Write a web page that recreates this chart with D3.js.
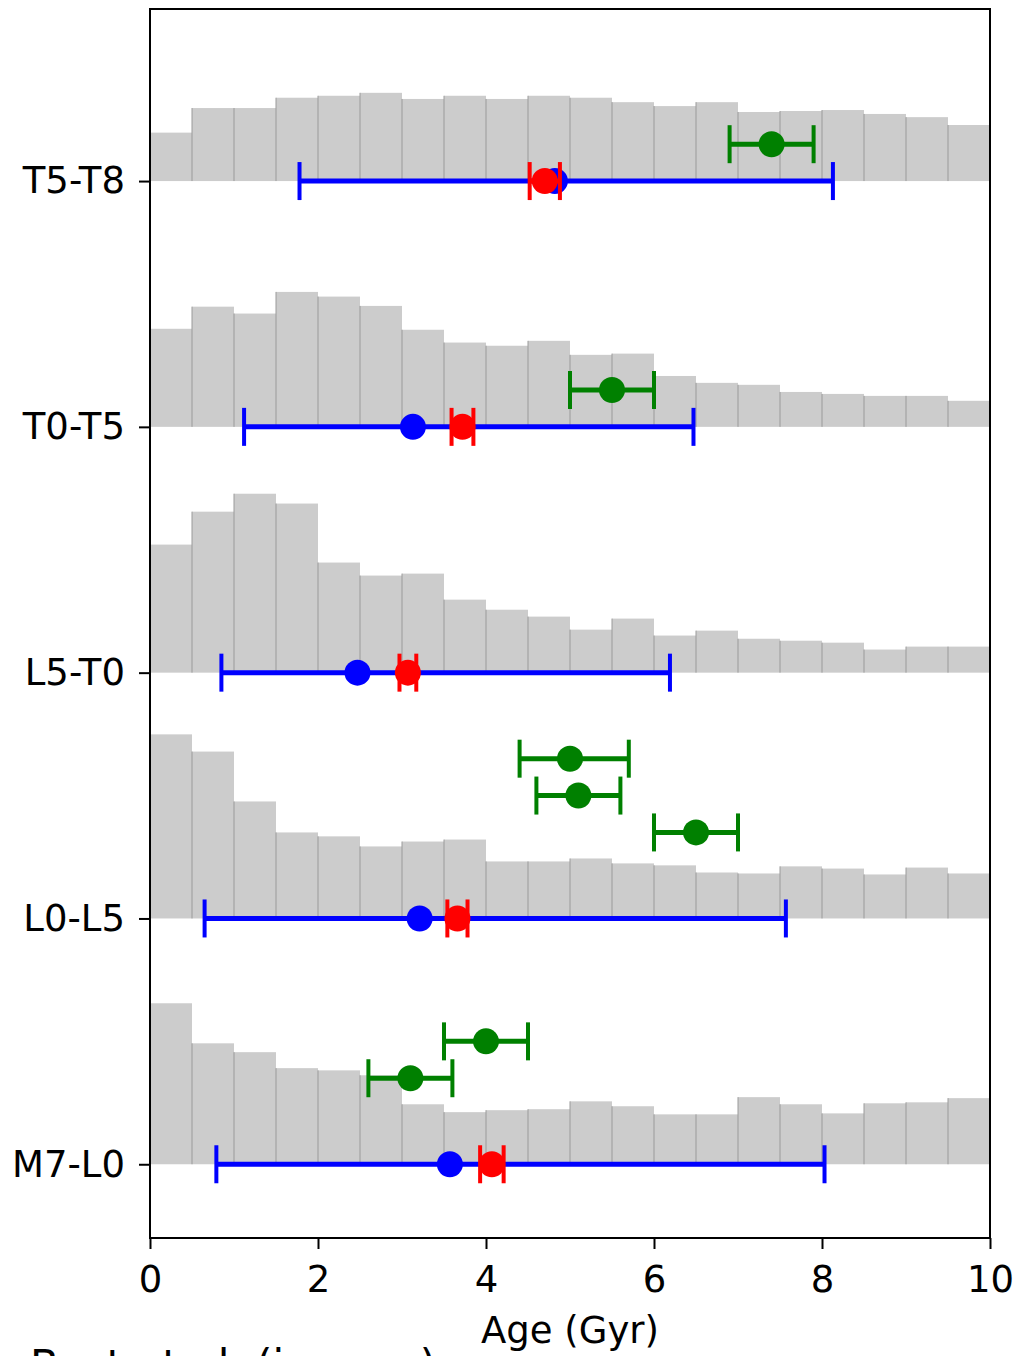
<!DOCTYPE html>
<html>
<head>
<meta charset="utf-8">
<script src="https://cdn.jsdelivr.net/npm/d3@7"></script>
<style>
  body { margin: 0; background: #fff; }
  svg { display: block; font-family: "DejaVu Sans", sans-serif; }
</style>
</head>
<body>
<div id="chart"></div>
<script>
// spectral type groups, bottom to top
const groups = ["M7-L0", "L0-L5", "L5-T0", "T0-T5", "T5-T8"];

// histogram bins (Gyr)
const binEdges = [0, 0.5, 1, 1.5, 2, 2.5, 3, 3.5, 4, 4.5, 5, 5.5, 6, 6.5, 7, 7.5, 8, 8.5, 9, 9.5, 10];

// histogram heights (fraction of the row spacing)
const histM7L0 = [0.655, 0.492, 0.456, 0.391, 0.382, 0.362, 0.244, 0.212, 0.220, 0.224, 0.256, 0.236, 0.203, 0.203, 0.273, 0.244, 0.207, 0.248, 0.252, 0.269];
const histL0L5 = [0.749, 0.679, 0.476, 0.350, 0.334, 0.293, 0.313, 0.321, 0.232, 0.232, 0.244, 0.224, 0.216, 0.187, 0.183, 0.212, 0.203, 0.179, 0.207, 0.183];
const histL5T0 = [0.521, 0.655, 0.728, 0.688, 0.448, 0.395, 0.403, 0.297, 0.256, 0.228, 0.175, 0.220, 0.151, 0.171, 0.138, 0.130, 0.122, 0.094, 0.106, 0.106];
const histT0T5 = [0.399, 0.489, 0.461, 0.549, 0.530, 0.492, 0.395, 0.343, 0.330, 0.350, 0.293, 0.298, 0.207, 0.179, 0.171, 0.142, 0.134, 0.126, 0.126, 0.106];
const histT5T8 = [0.197, 0.297, 0.297, 0.339, 0.347, 0.359, 0.334, 0.347, 0.334, 0.347, 0.339, 0.321, 0.305, 0.321, 0.281, 0.285, 0.289, 0.273, 0.260, 0.228];
const hists = [histM7L0, histL0L5, histL5T0, histT0T5, histT5T8];

// blue: median age with range
const blueAge = [3.57, 3.21, 2.47, 3.13, 4.82];
const blueLo  = [0.79, 0.65, 0.85, 1.12, 1.78];
const blueHi  = [8.03, 7.57, 6.19, 6.47, 8.13];

// red: mean age with error
const redAge = [4.07, 3.66, 3.07, 3.72, 4.70];
const redErr = [0.14, 0.12, 0.10, 0.13, 0.18];

// green: literature ages (group index, vertical offset, age, low, high)
const greenGroup  = [0, 0, 1, 1, 1, 3, 4];
const greenOffset = [0.5, 0.35, 0.65, 0.5, 0.35, 0.15, 0.15];
const greenAge    = [4.0, 3.1, 5.0, 5.1, 6.5, 5.5, 7.4];
const greenLo     = [3.5, 2.6, 4.4, 4.6, 6.0, 5.0, 6.9];
const greenHi     = [4.5, 3.6, 5.7, 5.6, 7.0, 6.0, 7.9];

const xTicks = [0, 2, 4, 6, 8, 10];

const W = 1015, H = 1356;
const margin = { top: 9, right: 25, bottom: 118, left: 150 };
const fontSize = 37;

const svg = d3.select("#chart").append("svg")
    .attr("width", W)
    .attr("height", H);

const x = d3.scaleLinear().domain([0, 10]).range([margin.left, W - margin.right]);
const y = d3.scaleLinear().domain([-0.3, 4.7]).range([H - margin.bottom, margin.top]);

// histograms
const bars = [];
hists.forEach((h, gi) => {
    h.forEach((v, bi) => bars.push({ g: gi, b: bi, v: v }));
});

svg.append("g").selectAll("rect")
    .data(bars)
    .enter().append("rect")
    .attr("x", d => x(binEdges[d.b]))
    .attr("y", d => y(d.g + d.v))
    .attr("width", d => x(binEdges[d.b + 1]) - x(binEdges[d.b]))
    .attr("height", d => y(d.g) - y(d.g + d.v))
    .attr("fill", "#cccccc");

svg.append("g").selectAll("line")
    .data(bars.filter(d => d.b > 0))
    .enter().append("line")
    .attr("x1", d => x(binEdges[d.b]))
    .attr("x2", d => x(binEdges[d.b]))
    .attr("y1", d => y(d.g))
    .attr("y2", d => y(d.g + d.v))
    .attr("stroke", "#9a9a9a")
    .attr("stroke-width", 1);

// error bar helper
const capHalf = 19;
function errorbar(g, cx, cy, lo, hi, color) {
    g.append("line")
        .attr("x1", x(lo)).attr("x2", x(hi))
        .attr("y1", cy).attr("y2", cy)
        .attr("stroke", color).attr("stroke-width", 5);
    [lo, hi].forEach(v => {
        g.append("line")
            .attr("x1", x(v)).attr("x2", x(v))
            .attr("y1", cy - capHalf).attr("y2", cy + capHalf)
            .attr("stroke", color).attr("stroke-width", 4);
    });
    g.append("circle")
        .attr("cx", x(cx)).attr("cy", cy)
        .attr("r", 13)
        .attr("fill", color);
}

const marks = svg.append("g");
groups.forEach((grp, i) => {
    errorbar(marks, blueAge[i], y(i), blueLo[i], blueHi[i], "#0000ff");
});
groups.forEach((grp, i) => {
    errorbar(marks, redAge[i], y(i), redAge[i] - redErr[i], redAge[i] + redErr[i], "#ff0000");
});
greenAge.forEach((a, k) => {
    errorbar(marks, a, y(greenGroup[k] + greenOffset[k]), greenLo[k], greenHi[k], "#008000");
});

// frame
svg.append("rect")
    .attr("x", margin.left)
    .attr("y", margin.top)
    .attr("width", W - margin.left - margin.right)
    .attr("height", H - margin.top - margin.bottom)
    .attr("fill", "none")
    .attr("stroke", "#000")
    .attr("stroke-width", 2);

// axes
const xAxis = svg.append("g")
    .attr("transform", `translate(0,${H - margin.bottom})`)
    .call(d3.axisBottom(x).tickValues(xTicks).tickSize(11).tickPadding(17).tickFormat(d3.format("d")));

const yAxis = svg.append("g")
    .attr("transform", `translate(${margin.left},0)`)
    .call(d3.axisLeft(y).tickValues(d3.range(groups.length)).tickSize(11).tickPadding(14).tickFormat(i => groups[i]));

[xAxis, yAxis].forEach(a => {
    a.select(".domain").remove();
    a.selectAll(".tick line").attr("stroke", "#000").attr("stroke-width", 2);
    a.selectAll(".tick text")
        .attr("fill", "#000")
        .style("font-size", fontSize + "px")
        .style("font-family", "DejaVu Sans, sans-serif");
});

svg.append("text")
    .attr("x", x(5))
    .attr("y", 1343)
    .attr("text-anchor", "middle")
    .style("font-size", fontSize + "px")
    .text("Age (Gyr)");

// caption cut off at the bottom of the figure
svg.append("text")
    .attr("x", 30)
    .attr("y", 1380)
    .style("font-size", "42px")
    .text("Best et al. (in prep)");
</script>
</body>
</html>
